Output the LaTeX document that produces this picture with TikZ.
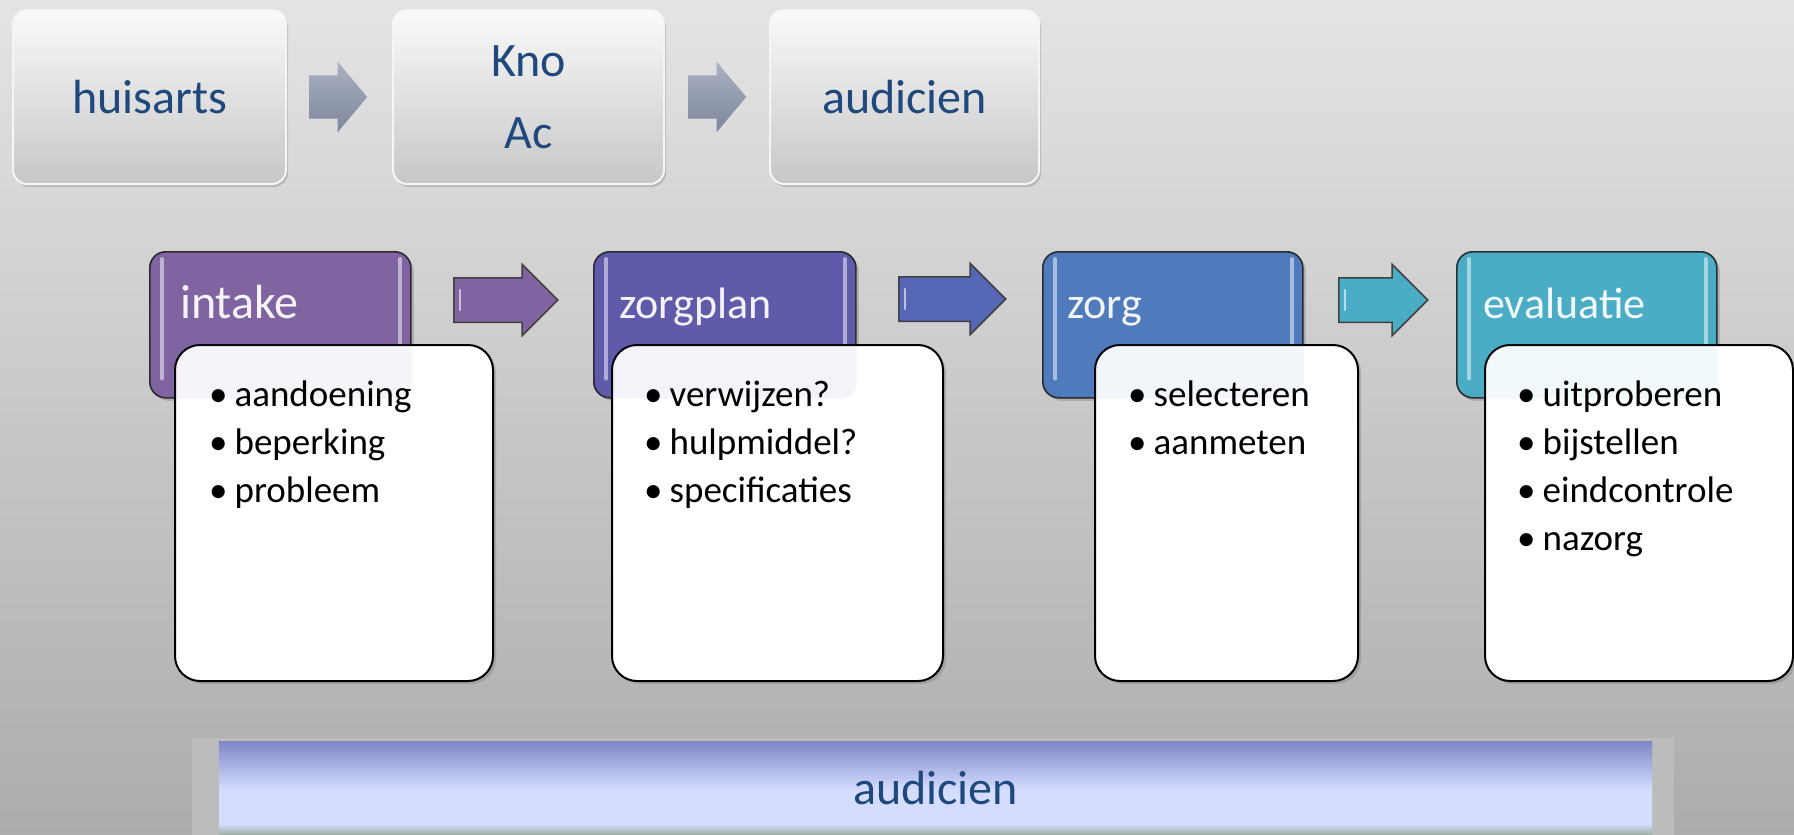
\documentclass[tikz,border=0pt]{standalone}
\usepackage{fontspec}
\setmainfont{Carlito}
\usetikzlibrary{shapes.arrows,shadows}
\definecolor{bgtop}{HTML}{E4E4E4}
\definecolor{bgbot}{HTML}{ACACAC}
\definecolor{txtblue}{HTML}{1F497D}
\definecolor{cIntake}{HTML}{8064A2}
\definecolor{cPlan}{HTML}{5F5AAA}
\definecolor{cZorg}{HTML}{4F7BBD}
\definecolor{cEval}{HTML}{4BACC6}
\definecolor{cArrA}{HTML}{8064A2}
\definecolor{cArrB}{HTML}{5466B4}
\definecolor{cArrC}{HTML}{4BACC6}
\definecolor{gA}{HTML}{AAB1C2}
\definecolor{gB}{HTML}{7D869C}
\definecolor{barA}{HTML}{7F86C6}
\definecolor{barB}{HTML}{D4DDFF}
\definecolor{barC}{HTML}{9AAB9C}
\definecolor{frame}{HTML}{BCBCBC}
\pgfdeclareverticalshading{barshade}{100bp}{color(0bp)=(barC); color(25bp)=(barC); color(31bp)=(barB); color(49bp)=(barB); color(75bp)=(barA); color(100bp)=(barA)}
\newcommand{\bul}{•\hspace{7pt}}
\begin{document}
\begin{tikzpicture}[x=1pt,y=-1pt,
  topbox/.style={anchor=north west, rounded corners=14pt, top color=white!96!gray, bottom color=black!22, draw=white!92!gray, line width=2pt, inner sep=0pt, text=txtblue, align=center, font=\fontsize{48}{72}\selectfont, drop shadow={shadow xshift=2pt, shadow yshift=-3pt, opacity=0.35}},
  grayarrow/.style={shape=single arrow, anchor=tail, inner xsep=0pt, inner ysep=21.5pt, minimum height=58pt, single arrow head extend=13.5pt, single arrow tip angle=100, top color=gA, bottom color=gB, draw=none},
  hdrbox/.style={anchor=north west, rounded corners=16pt, draw=black!85, line width=1.6pt, inner sep=0pt, minimum height=146pt, drop shadow={shadow xshift=3pt, shadow yshift=-3pt, opacity=0.4}},
  hdrtext/.style={anchor=base west, inner sep=0pt, text=white, font=\fontsize{44}{50}\selectfont},
  hl/.style={draw=white, draw opacity=0.55, line width=4pt, line cap=round},
  stepbox/.style={anchor=north west, rounded corners=25pt, draw=black, line width=2pt, fill=white, inner sep=0pt, minimum height=336pt, drop shadow={shadow xshift=3pt, shadow yshift=-3pt, opacity=0.4}},
  tint/.style={rounded corners=16pt, fill opacity=0.07},
  bullets/.style={anchor=north west, inner sep=0pt, align=left, text=black, font=\fontsize{37}{48}\selectfont},
  flowarrow/.style={shape=single arrow, anchor=tail, inner xsep=0pt, inner ysep=21.5pt, single arrow head extend=13.5pt, draw=black!75, line width=1.5pt}
]
\useasboundingbox (0,0) rectangle (1794,835);
\shade[top color=bgtop, bottom color=bgbot] (0,0) rectangle (1794,835);

% top row
\node[topbox, minimum width=273pt, minimum height=174pt] (huisarts) at (12,9) {huisarts};
\node[topbox, minimum width=271pt, minimum height=174pt] (kno) at (392,9) {Kno\\Ac};
\node[topbox, minimum width=269pt, minimum height=174pt] (aud) at (769,9) {audicien};
\node[grayarrow] (ta1) at (309,97) {};
\node[grayarrow] (ta2) at (688,97) {};

% header boxes
\node[hdrbox, fill=cIntake, minimum width=261pt] (intake) at (149,251) {};
\node[hdrbox, fill=cPlan, minimum width=262pt] (plan) at (593,251) {};
\node[hdrbox, fill=cZorg, minimum width=260pt] (zorg) at (1042,251) {};
\node[hdrbox, fill=cEval, minimum width=260pt] (eval) at (1456,251) {};

\foreach \b in {intake,plan,zorg,eval}{
  \draw[hl] ([xshift=13pt,yshift=-8pt]\b.north west) -- ([xshift=13pt,yshift=20pt]\b.south west);
  \draw[hl] ([xshift=-12pt,yshift=-8pt]\b.north east) -- ([xshift=-12pt,yshift=20pt]\b.south east);
}

\node[hdrtext, font=\fontsize{48}{54}\selectfont] (intaket) at ([xshift=31pt,yshift=-67pt]intake.north west) {intake};
\node[hdrtext] (plant) at ([xshift=26pt,yshift=-67pt]plan.north west) {zorgplan};
\node[hdrtext] (zorgt) at ([xshift=25pt,yshift=-67pt]zorg.north west) {zorg};
\node[hdrtext] (evalt) at ([xshift=27pt,yshift=-67pt]eval.north west) {evaluatie};

% flow arrows
\node[flowarrow, fill=cArrA, minimum height=104pt] (fa1) at (453,300) {};
\node[flowarrow, fill=cArrB, minimum height=107pt] (fa2) at (898,299) {};
\node[flowarrow, fill=cArrC, minimum height=89pt] (fa3) at (1338,300) {};
\foreach \a in {fa1,fa2,fa3}{
  \draw[draw=white, draw opacity=0.6, line width=2.5pt, line cap=round] ([xshift=7pt,yshift=10pt]\a.tail) -- ([xshift=7pt,yshift=-10pt]\a.tail);
}

% white boxes
\node[stepbox, minimum width=318pt] (intakeb) at (174,344) {};
\node[stepbox, minimum width=331pt] (planb) at (611,344) {};
\node[stepbox, minimum width=263pt] (zorgb) at (1094,344) {};
\node[stepbox, minimum width=308pt] (evalb) at (1484,344) {};

% faint show-through of the header boxes
\fill[tint, cIntake] (intake.north west) rectangle (intake.south east);
\fill[tint, cPlan] (plan.north west) rectangle (plan.south east);
\fill[tint, cZorg] (zorg.north west) rectangle (zorg.south east);
\fill[tint, cEval] (eval.north west) rectangle (eval.south east);

\node[bullets] (intakel) at (209,376) {\rule{0pt}{30pt}\bul aandoening\\\bul beperking\\\bul probleem};
\node[bullets] (planl) at (644,376) {\rule{0pt}{30pt}\bul verwijzen?\\\bul hulpmiddel?\\\bul specificaties};
\node[bullets] (zorgl) at (1128,376) {\rule{0pt}{30pt}\bul selecteren\\\bul aanmeten};
\node[bullets] (evall) at (1517,376) {\rule{0pt}{30pt}\bul uitproberen\\\bul bijstellen\\\bul eindcontrole\\\bul nazorg};

% bottom bar
\fill[frame] (192,738) rectangle (1674,835);
\node[anchor=north west, minimum width=1433pt, minimum height=94pt, inner sep=0pt, shading=barshade, text=txtblue, font=\fontsize{48}{58}\selectfont] (bar) at (219,741) {audicien};
\end{tikzpicture}
\end{document}
